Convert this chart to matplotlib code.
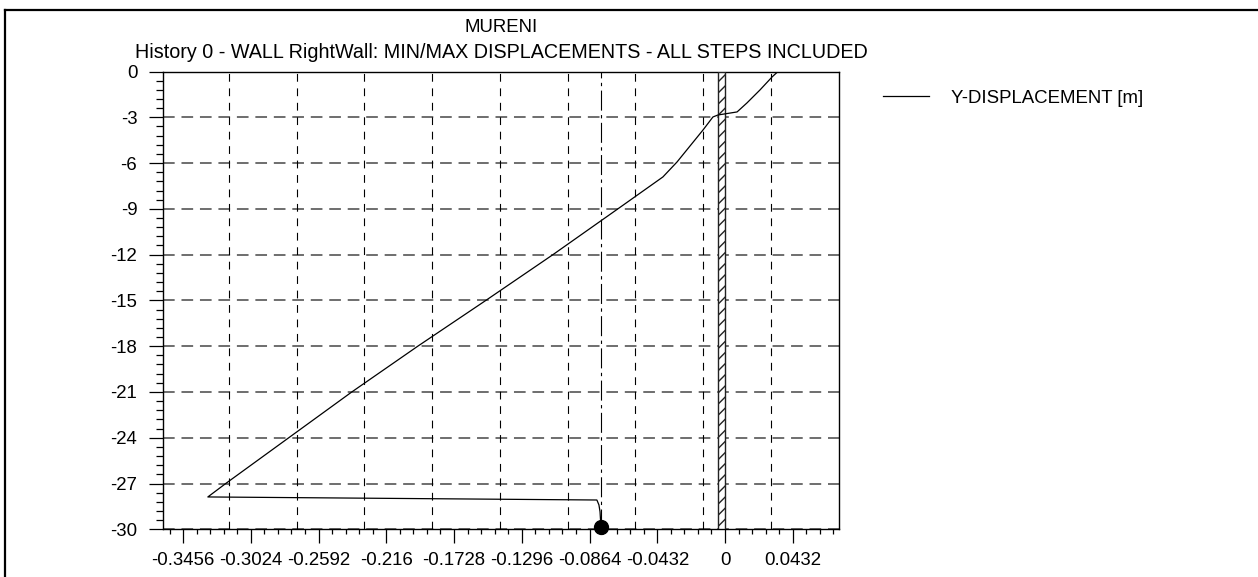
import numpy as np
import matplotlib
matplotlib.use("Agg")
import matplotlib.pyplot as plt
from matplotlib.lines import Line2D
from matplotlib.patches import Rectangle
from matplotlib.ticker import MultipleLocator, FixedLocator

# wall displacement profile (x = displacement [m], y = level [m])
disp_x = [0.0338, 0.0300, 0.0223, 0.0140, 0.0077, -0.0045, -0.0077, -0.0140,
          -0.0306, -0.0396, -0.0683, -0.1097, -0.1525, -0.1959, -0.2380,
          -0.2782, -0.3184, -0.3298, -0.0817, -0.0804, -0.0797, -0.0791]
level_y = [0.0, -0.36, -1.21, -2.06, -2.65, -2.85, -2.98, -3.83,
           -5.93, -6.91, -9.0, -12.0, -15.0, -18.0, -21.0,
           -24.0, -27.0, -27.88, -28.08, -28.40, -28.85, -29.85]

# max displacement marker
max_x = -0.0791
max_y = -29.85

# wall body
wall_left = -0.0042
wall_right = 0.0

x_ticks = [-0.3456, -0.3024, -0.2592, -0.216, -0.1728, -0.1296, -0.0864, -0.0432, 0, 0.0432]
x_tick_labels = ["-0.3456", "-0.3024", "-0.2592", "-0.216", "-0.1728", "-0.1296",
                 "-0.0864", "-0.0432", "0", "0.0432"]
y_ticks = [0, -3, -6, -9, -12, -15, -18, -21, -24, -27, -30]

plt.rcParams['font.family'] = ['Liberation Sans', 'DejaVu Sans']
plt.rcParams['axes.unicode_minus'] = False
plt.rcParams['hatch.linewidth'] = 1.0
FS = 13.4

W, H = 1258, 577
fig = plt.figure(figsize=(W / 100, H / 100), dpi=100)
ax = fig.add_axes([163 / W, 1 - 529.3 / H, (839 - 163) / W, (529.3 - 71.5) / H])

ax.set_xlim(-0.3584, 0.0727)
ax.set_ylim(-30, 0)

# grid: horizontal at the major y ticks, vertical offset from the x ticks
for yv in y_ticks:
    ax.axhline(yv, color='#6e6e6e', lw=1.4, dashes=(6, 3.5), zorder=1)
vgrid = np.arange(-0.3163, 0.07, 0.0432)
for xv in vgrid:
    ax.axvline(xv, color='black', lw=0.8, dashes=(7, 6), zorder=1)

# line through the point of maximum displacement
ax.axvline(max_x, color='black', lw=0.8, dashes=(18, 4, 3, 4), zorder=1)

ax.add_patch(Rectangle((wall_left, -30), wall_right - wall_left, 30,
                       facecolor='white', edgecolor='#222222', lw=1.0,
                       hatch='///', zorder=3))

ax.plot(disp_x, level_y, color='black', lw=0.9, zorder=4,
        label='Y-DISPLACEMENT [m]')
ax.plot([max_x], [max_y], 'o', color='black', ms=10, zorder=5, clip_on=False)

ax.xaxis.set_major_locator(FixedLocator(x_ticks))
ax.set_xticklabels(x_tick_labels)
ax.xaxis.set_minor_locator(MultipleLocator(0.00864))
ax.set_yticks(y_ticks)
ax.yaxis.set_minor_locator(MultipleLocator(0.6))

ax.tick_params(which='major', length=10, width=0.9, labelsize=FS, color='black')
ax.tick_params(axis='x', which='major', pad=6)
ax.tick_params(axis='y', which='major', pad=8.5)
ax.tick_params(axis='x', which='minor', length=3.6, width=0.9)
ax.tick_params(axis='y', which='minor', length=5, width=0.9)
for sp in ax.spines.values():
    sp.set_linewidth(1.0)
    sp.set_color('black')

cx = (163 + 839) / 2 / W
fig.text(cx, 1 - 28 / H, "MURENI", ha='center', va='center', fontsize=FS)
fig.text(cx, 1 - 52 / H,
         "History 0 - WALL RightWall: MIN/MAX DISPLACEMENTS - ALL STEPS INCLUDED",
         ha='center', va='center', fontsize=14.2)

fig.legend(handles=[Line2D([], [], color='black', lw=0.9)],
           labels=['Y-DISPLACEMENT [m]'], loc='center left',
           bbox_to_anchor=(883 / W, 1 - 98 / H), frameon=False,
           fontsize=FS, borderpad=0, borderaxespad=0,
           handlelength=2.45, handletextpad=1.2)

# outer frame (left and top edges)
fig.add_artist(Line2D([4.5 / W, 4.5 / W], [0, 1 - 10 / H], color='black',
                      lw=1.6, transform=fig.transFigure))
fig.add_artist(Line2D([4.5 / W, 1], [1 - 10 / H, 1 - 10 / H], color='black',
                      lw=1.6, transform=fig.transFigure))

fig.savefig("out.png", dpi=100)
